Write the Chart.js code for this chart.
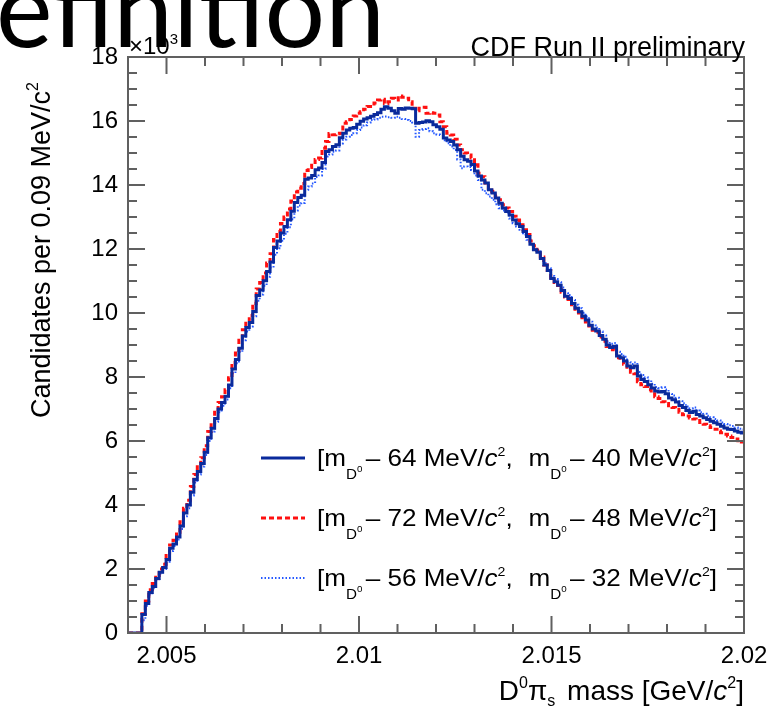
<!DOCTYPE html>
<html>
<head>
<meta charset="utf-8">
<script src="https://cdn.jsdelivr.net/npm/chart.js@4.4.1/dist/chart.umd.min.js"></script>
<style>
  html, body { margin: 0; padding: 0; background: #fff; overflow: hidden; }
</style>
</head>
<body>
<canvas id="massChart" width="778" height="707"></canvas>
<script>
// histogram binning (GeV), 0.09 MeV bins
var binStart = 2.004;
var binWidth = 0.00009;
var xTicks = [2.005, 2.01, 2.015, 2.02];
var yTicks = [0, 2000, 4000, 6000, 8000, 10000, 12000, 14000, 16000, 18000];

// sideband windows [low, high] in MeV below m(D0)
var windows = [[64, 40], [72, 48], [56, 32]];

var solidCounts = [
	0, 0, 0, 0, 577, 922, 1268, 1450, 1700, 1900,
	2050, 2300, 2650, 2780, 3000, 3344, 3747, 4000, 4400, 4800,
	5050, 5300, 5650, 6100, 6400, 6700, 7000, 7200, 7400, 7750,
	8250, 8550, 8900, 9280, 9550, 9700, 10050, 10550, 10720, 11010,
	11300, 11590, 12050, 12250, 12500, 12700, 12914, 13180, 13450, 13610,
	13680, 14180, 14220, 14300, 14480, 14530, 14700, 15044, 15100, 15200,
	15260, 15480, 15620, 15720, 15770, 15800, 15900, 15990, 16060, 16100,
	16150, 16200, 16260, 16370, 16448, 16396, 16323, 16240, 16390, 16365,
	16410, 16400, 16380, 15930, 15950, 15970, 16011, 15980, 15880, 15824,
	15741, 15470, 15408, 15356, 15252, 15100, 14900, 14790, 14740, 14640,
	14440, 14280, 14160, 14060, 13850, 13750, 13590, 13432, 13280, 13170,
	13060, 12910, 12790, 12700, 12550, 12390, 12150, 11980, 11900, 11700,
	11500, 11330, 11080, 10980, 10870, 10700, 10520, 10450, 10300, 10150,
	10040, 9900, 9780, 9620, 9500, 9440, 9300, 9180, 9000, 8920,
	8960, 8660, 8600, 8500, 8340, 8290, 8340, 8030, 7920, 7860,
	7760, 7660, 7560, 7530, 7550, 7480, 7340, 7290, 7220, 7110,
	7050, 6950, 6890, 6930, 6830, 6780, 6730, 6670, 6620, 6570,
	6520, 6460, 6410, 6370, 6360, 6310, 6270, 6250
];
var dashedCounts = [
	0, 0, 0, 0, 600, 1000, 1350, 1550, 1800, 2000,
	2150, 2420, 2750, 2900, 3150, 3480, 3900, 4150, 4580, 4950,
	5250, 5480, 5850, 6300, 6580, 6900, 7200, 7380, 7600, 7980,
	8450, 8750, 9150, 9480, 9750, 9920, 10300, 10750, 10950, 11250,
	11560, 11850, 12300, 12550, 12800, 13000, 13250, 13500, 13780, 13900,
	14050, 14450, 14550, 14700, 14800, 14840, 15150, 15360, 15610, 15570,
	15600, 15620, 15930, 15980, 16050, 16160, 16240, 16290, 16370, 16450,
	16530, 16560, 16660, 16680, 16550, 16600, 16710, 16660, 16780, 16740,
	16710, 16600, 16400, 16320, 16400, 16430, 16240, 16260, 16240, 16190,
	15980, 15820, 15620, 15560, 15430, 15250, 15100, 15000, 14940, 14840,
	14630, 14370, 14260, 14060, 13900, 13800, 13640, 13540, 13380, 13280,
	13170, 13020, 12910, 12760, 12600, 12450, 12250, 12100, 11950, 11750,
	11500, 11330, 11100, 10950, 10860, 10650, 10500, 10420, 10260, 10120,
	10000, 9850, 9720, 9590, 9460, 9400, 9250, 9120, 8950, 8850,
	8880, 8600, 8520, 8400, 8250, 8150, 8100, 7850, 7760, 7700,
	7600, 7480, 7380, 7330, 7230, 7170, 7100, 7050, 6990, 6900,
	6820, 6780, 6720, 6690, 6640, 6580, 6520, 6480, 6420, 6370,
	6310, 6260, 6210, 6160, 6110, 6060, 6010, 5970
];
var dottedCounts = [
	0, 0, 0, 0, 400, 850, 1200, 1400, 1650, 1850,
	2000, 2230, 2560, 2720, 2920, 3250, 3650, 3900, 4300, 4700,
	4950, 5200, 5560, 6000, 6300, 6600, 6900, 7100, 7300, 7650,
	8120, 8430, 8780, 9150, 9420, 9580, 9900, 10380, 10580, 10850,
	11130, 11420, 11820, 12020, 12260, 12480, 12680, 12930, 13200, 13360,
	13440, 13850, 13950, 14050, 14250, 14300, 14500, 14890, 14950, 15040,
	15080, 15300, 15420, 15510, 15560, 15620, 15720, 15800, 15870, 15950,
	16030, 16050, 16100, 16130, 16140, 16120, 16100, 16136, 16100, 16060,
	16030, 16000, 15950, 15510, 15720, 15750, 15772, 15680, 15616, 15580,
	15564, 15400, 15304, 15200, 15096, 14800, 14524, 14576, 14560, 14472,
	14300, 14160, 13848, 13744, 13640, 13536, 13400, 13276, 13200, 13120,
	12950, 12808, 12700, 12600, 12450, 12289, 12130, 11977, 11920, 11740,
	11560, 11400, 11160, 11060, 10960, 10800, 10620, 10560, 10410, 10260,
	10150, 10010, 9890, 9730, 9610, 9550, 9420, 9300, 9120, 9040,
	9060, 8790, 8720, 8630, 8470, 8410, 8450, 8160, 8060, 7990,
	7890, 7790, 7690, 7660, 7680, 7610, 7470, 7420, 7350, 7240,
	7180, 7080, 7020, 7050, 6950, 6900, 6850, 6790, 6740, 6690,
	6640, 6580, 6530, 6490, 6470, 6420, 6380, 6360
];

var xMin = 2.004, xMax = 2.02;
var FONT = '"Liberation Sans", Arial, Helvetica, sans-serif';

// step points: one per bin low edge, plus closing point
function histPoints(counts) {
	var pts = [];
	for (var i = 0; i < counts.length; i++) {
		pts.push({ x: binStart + i * binWidth, y: counts[i] });
	}
	pts.push({ x: Math.min(binStart + counts.length * binWidth, xMax), y: counts[counts.length - 1] });
	return pts;
}

var styles = [
	{ color: "#0a2a9c", width: 3, dash: [] },
	{ color: "#ff1010", width: 3, dash: [5, 3] },
	{ color: "#2458ff", width: 2, dash: [1.5, 2] }
];

function fontStr(size, italic) {
	return (italic ? "italic " : "") + size + "px " + FONT;
}

function richWidth(ctx, runs) {
	var w = 0;
	runs.forEach(function(r) {
		ctx.font = fontStr(r.s, r.it);
		w += ctx.measureText(r.t).width + (r.gap || 0);
	});
	return w;
}

function drawRich(ctx, x, y, runs) {
	runs.forEach(function(r) {
		ctx.font = fontStr(r.s, r.it);
		ctx.fillText(r.t, x, y + (r.dy || 0));
		x += ctx.measureText(r.t).width + (r.gap || 0);
	});
}

function legendRuns(w) {
	var mD = [{ t: "D", s: 14, dy: 13 }, { t: "0", s: 9, dy: 6, gap: 3 }];
	return [{ t: "[m", s: 24 }].concat(mD,
		[{ t: "\u2013 " + w[0] + " MeV/", s: 24 }, { t: "c", s: 24, it: true }, { t: "2", s: 13, dy: -10 },
		 { t: ",", s: 24, gap: 8 }, { t: " m", s: 24 }], mD,
		[{ t: "\u2013 " + w[1] + " MeV/", s: 24 }, { t: "c", s: 24, it: true }, { t: "2", s: 13, dy: -10 },
		 { t: "]", s: 24 }]);
}

var decor = {
	id: "cdfDecor",
	afterDraw: function(chart) {
		var ctx = chart.ctx;
		var a = chart.chartArea;
		var xs = chart.scales.x, ys = chart.scales.y;
		ctx.save();

		// frame
		ctx.strokeStyle = "#606060";
		ctx.lineWidth = 2;
		ctx.setLineDash([]);
		ctx.strokeRect(a.left, a.top, a.right - a.left, a.bottom - a.top);

		// inward ticks on all four sides
		ctx.beginPath();
		for (var k = 1; k <= 16; k++) {
			var v = xMin + k * 0.001;
			var major = xTicks.some(function(t) { return Math.abs(t - v) < 1e-6; });
			var len = major ? 17 : 9;
			var px = xs.getPixelForValue(v);
			ctx.moveTo(px, a.bottom); ctx.lineTo(px, a.bottom - len);
			ctx.moveTo(px, a.top); ctx.lineTo(px, a.top + len);
		}
		for (var yv = 500; yv < 18000; yv += 500) {
			var lenY = (yv % 2000 === 0) ? 17 : 9;
			var py = ys.getPixelForValue(yv);
			ctx.moveTo(a.left, py); ctx.lineTo(a.left + lenY, py);
			ctx.moveTo(a.right, py); ctx.lineTo(a.right - lenY, py);
		}
		ctx.stroke();

		ctx.fillStyle = "#000";
		ctx.textBaseline = "alphabetic";
		ctx.textAlign = "left";

		// legend
		var rows = [458, 518, 578];
		for (var i = 0; i < windows.length; i++) {
			ctx.strokeStyle = styles[i].color;
			ctx.lineWidth = styles[i].width;
			ctx.setLineDash(styles[i].dash);
			ctx.beginPath();
			ctx.moveTo(261, rows[i]);
			ctx.lineTo(305, rows[i]);
			ctx.stroke();
			ctx.setLineDash([]);
			var runs = legendRuns(windows[i]);
			var lw = richWidth(ctx, runs);
			ctx.save();
			ctx.translate(317, rows[i] + 8);
			ctx.scale(400 / lw, 1);
			drawRich(ctx, 0, 0, runs);
			ctx.restore();
		}

		// exponent above the y axis
		drawRich(ctx, 129, 54, [{ t: "\u00d710", s: 24 }, { t: "3", s: 15, dy: -10 }]);

		// y axis title
		var yRuns = [{ t: "Candidates per 0.09 MeV/c", s: 27 }, { t: "2", s: 16, dy: -12 }];
		var yw = richWidth(ctx, yRuns);
		ctx.save();
		ctx.translate(50, 82);
		ctx.rotate(-Math.PI / 2);
		drawRich(ctx, -yw, 0, yRuns);
		ctx.restore();

		// x axis title
		var xRuns = [{ t: "D", s: 28 }, { t: "0", s: 16, dy: -12 }, { t: "\u03c0", s: 28 }, { t: "s", s: 16, dy: 6, gap: 4 },
			{ t: " mass [GeV/", s: 28 }, { t: "c", s: 28, it: true }, { t: "2", s: 16, dy: -12 }, { t: "]", s: 28 }];
		drawRich(ctx, 744 - richWidth(ctx, xRuns), 700, xRuns);

		// header texts
		ctx.textAlign = "right";
		ctx.font = fontStr(27, false);
		ctx.fillText("CDF Run II preliminary", 745, 56);
		ctx.textAlign = "left";
		ctx.font = '107px Lato, "Open Sans", sans-serif';
		ctx.fillText("efinition", -4, 47);

		ctx.restore();
	}
};

var ctx1 = document.getElementById("massChart").getContext("2d");
var chart1 = new Chart(ctx1, {
	type: "line",
	data: {
		datasets: [
			{ data: histPoints(solidCounts), order: 0 },
			{ data: histPoints(dashedCounts), order: 1 },
			{ data: histPoints(dottedCounts), order: 2 }
		].map(function(ds, i) {
			ds.stepped = true;
			ds.borderColor = styles[i].color;
			ds.borderWidth = styles[i].width;
			ds.borderDash = styles[i].dash;
			ds.pointRadius = 0;
			ds.fill = false;
			return ds;
		})
	},
	options: {
		responsive: false,
		animation: false,
		layout: { padding: { left: 0, right: 34, top: 57, bottom: 0 } },
		plugins: { legend: { display: false }, tooltip: { enabled: false } },
		scales: {
			x: {
				type: "linear",
				min: xMin,
				max: xMax,
				afterBuildTicks: function(s) { s.ticks = xTicks.map(function(v) { return { value: v }; }); },
				afterFit: function(s) { s.height = 74; },
				grid: { display: false, drawTicks: false },
				border: { display: false },
				ticks: {
					autoSkip: false, maxRotation: 0, padding: 9, color: "#000",
					font: { family: FONT, size: 24 },
					callback: function(v) { return String(v); }
				}
			},
			y: {
				min: 0,
				max: 18000,
				afterBuildTicks: function(s) { s.ticks = yTicks.map(function(v) { return { value: v }; }); },
				afterFit: function(s) { s.width = 128; },
				grid: { display: false, drawTicks: false },
				border: { display: false },
				ticks: {
					padding: 10, color: "#000",
					font: { family: FONT, size: 24 },
					callback: function(v) { return v / 1000; }
				}
			}
		}
	},
	plugins: [decor]
});
</script>
</body>
</html>
